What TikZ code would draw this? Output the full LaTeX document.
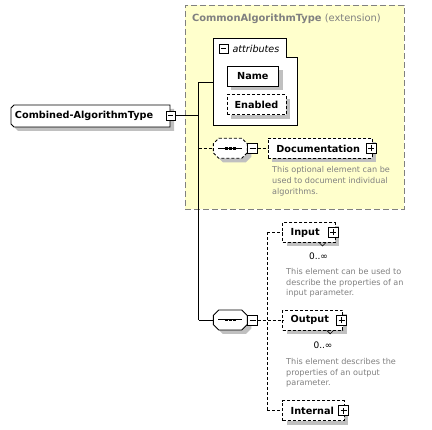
\documentclass[tikz,border=0pt]{standalone}
\usepackage{fontspec}
\setmainfont{DejaVu Sans}
\usetikzlibrary{shadows}
\definecolor{ybg}{HTML}{FFFFCC}
\definecolor{txtgrey}{HTML}{808080}
\definecolor{shgrey}{HTML}{C0C0C0}
\newcommand\octpath[4]{([xshift=#2+#3,yshift=#4]#1.north west) -- ([xshift=-#2+#3,yshift=#4]#1.north east) -- ([xshift=#3,yshift=-#2+#4]#1.north east) -- ([xshift=#3,yshift=#2+#4]#1.south east) -- ([xshift=-#2+#3,yshift=#4]#1.south east) -- ([xshift=#2+#3,yshift=#4]#1.south west) -- ([xshift=#3,yshift=#2+#4]#1.south west) -- ([xshift=#3,yshift=-#2+#4]#1.north west) -- cycle}
\newcommand\lchampath[4]{([xshift=#2+#3,yshift=#4]#1.north west) -- ([xshift=#3,yshift=#4]#1.north east) -- ([xshift=#3,yshift=#4]#1.south east) -- ([xshift=#2+#3,yshift=#4]#1.south west) -- ([xshift=#3,yshift=#2+#4]#1.south west) -- ([xshift=#3,yshift=-#2+#4]#1.north west) -- cycle}
\begin{document}
\begin{tikzpicture}[x=1pt,y=-1pt,line width=0.9pt,
  every node/.style={inner sep=0pt,outer sep=0pt},
  lbl/.style={font=\fontsize{9.7}{11}\selectfont\bfseries},
  desc/.style={font=\fontsize{8.1}{10.7}\selectfont,text=txtgrey,align=left,anchor=north west},
  mult/.style={font=\fontsize{9}{10}\selectfont},
  shad/.style={general shadow={fill=shgrey,shadow xshift=4pt,shadow yshift=-4pt}},
  elem/.style={draw,fill=white,minimum height=20pt,lbl,shad},
  optelem/.style={elem,dash pattern=on 3pt off 2pt},
  padded/.style={inner xsep=8pt,text width=#1,align=left,anchor=west},
  ico/.style={draw,fill=white,minimum size=10pt,line width=0.8pt,solid},
  minusico/.style={ico,path picture={\draw[line width=0.8pt] ([xshift=2pt]path picture bounding box.west) -- ([xshift=-2pt]path picture bounding box.east);}},
  plusico/.style={ico,path picture={\draw[line width=0.8pt] ([xshift=2pt]path picture bounding box.west) -- ([xshift=-2pt]path picture bounding box.east) ([yshift=2pt]path picture bounding box.south) -- ([yshift=-2pt]path picture bounding box.north);}},
  seqbox/.style={minimum width=34pt,minimum height=20pt},
  conn/.style={line width=0.9pt},
  dconn/.style={conn,dash pattern=on 3pt off 2pt},
]
\fill[white] (0,0) rectangle (432,430);
\useasboundingbox (0,0) rectangle (432,430);

% extension frame
\node[draw=txtgrey,fill=ybg,line width=0.9pt,dash pattern=on 6pt off 3pt,minimum width=219pt,minimum height=204pt,anchor=north west] (ext) at (185,5) {};
\node[anchor=west,text=txtgrey,font=\fontsize{9.9}{11}\selectfont] (title) at (192,19) {\bfseries CommonAlgorithmType\mdseries\ (extension)};

% main element
\node[minimum width=159pt,minimum height=22pt] (main) at (90.5,116) {};
\fill[shgrey] \lchampath{main}{3pt}{4pt}{-4pt};
\draw[fill=white] \lchampath{main}{3pt}{0pt}{0pt};
\node[lbl,anchor=west] (maintxt) at ([xshift=4pt]main.west) {Combined-AlgorithmType};
\node[minusico,minimum size=9pt] (mainm) at (170.5,115.5) {};

% trunk
\coordinate (tj) at (198.5,115.5);
\coordinate (ttop) at (198.5,82.5);
\coordinate (tbot) at (198.5,320);
\draw[conn] (mainm.east) -- (tj);
\draw[conn] (ttop) -- (tbot);

% attributes
\draw[fill=white] (213.3,38.3) -| (286.7,57.3) -| (297.3,125.3) -| cycle;
\node[minimum width=84pt,minimum height=87pt,anchor=north west] (attr) at (213.3,38.3) {};
\node[minusico,minimum size=9pt] (attrm) at (223.6,48.8) {};
\node[anchor=west,font=\fontsize{9.6}{11}\selectfont\itshape] (attrtxt) at (232.5,48.5) {attributes};
\node[elem,minimum width=51.7pt,anchor=north west] (name) at (227,66.3) {Name};
\node[optelem,minimum width=59pt,anchor=north west] (enabled) at (227,94.7) {Enabled};
\draw[conn] (ttop) -- (attr.west |- ttop);

% sequence 1 (optional)
\node[seqbox] (seq1) at (230.3,148.3) {};
\fill[shgrey] \octpath{seq1}{5.5pt}{4pt}{-4pt};
\draw[fill=white,dash pattern=on 3pt off 2pt] \octpath{seq1}{5.5pt}{0pt}{0pt};
\draw[line width=1pt] ([xshift=5pt]seq1.west) -- ([xshift=-5pt]seq1.east);
\foreach \d in {-4,0,4} \fill ([xshift=\d pt]seq1.center) +(-1.3,-1.3) rectangle +(1.3,1.3);
\node[minusico] (seq1m) at (252.5,148.5) {};
\draw[dconn] (ttop |- seq1.west) -- (seq1.west);

\node[optelem,padded=88pt] (doc) at (268.3,148.5) {Documentation};
\node[plusico] (docp) at ([xshift=-1pt]doc.east) {};
\draw[dconn] (seq1m.east) -- (doc.west);
\node[desc] (docdesc) at (272.2,166.8) {This optional element can be\\used to document individual\\algorithms.};

% sequence 2
\node[seqbox] (seq2) at (230.3,320) {};
\fill[shgrey] \octpath{seq2}{5.5pt}{4pt}{-4pt};
\draw[fill=white] \octpath{seq2}{5.5pt}{0pt}{0pt};
\draw[line width=1pt] ([xshift=5pt]seq2.west) -- ([xshift=-5pt]seq2.east);
\foreach \d in {-4,0,4} \fill ([xshift=\d pt]seq2.center) +(-1.3,-1.3) rectangle +(1.3,1.3);
\node[minusico] (seq2m) at (252.5,320.3) {};
\draw[conn] (tbot) -- (seq2.west);

% children
\node[optelem,padded=36.3pt] (input) at (282.7,232.5) {Input};
\node[plusico] (inputp) at ([xshift=-2pt]input.east) {};
\draw[line width=0.7pt] ([xshift=-16pt]input.south east) -- ++(3.5,3.5) -- ++(3.5,-3.5);
\node[mult] (inputm) at (318.5,256) {0..∞};
\node[desc] (inputdesc) at (286.2,268.4) {This element can be used to\\describe the properties of an\\input parameter.};

\node[optelem,padded=44pt] (output) at (282.7,320.3) {Output};
\node[plusico] (outputp) at ([xshift=-1pt]output.east) {};
\draw[line width=0.7pt] ([xshift=-16pt]output.south east) -- ++(3.5,3.5) -- ++(3.5,-3.5);
\node[mult] (outputm) at (323,345) {0..∞};
\node[desc] (outputdesc) at (286.2,358.4) {This element describes the\\properties of an output\\parameter.};

\node[optelem,padded=45.3pt] (internal) at (282.7,410.7) {Internal};
\node[plusico] (internalp) at ([xshift=-0.5pt]internal.east) {};

\coordinate (ctop) at (267.3,232.5);
\coordinate (cbot) at (267.3,410.7);
\draw[dconn] (ctop) -- (cbot);
\draw[dconn] (ctop) -- (input.west);
\draw[dconn] (seq2m.east) -- (output.west);
\draw[dconn] (cbot) -- (internal.west);
\end{tikzpicture}
\end{document}
